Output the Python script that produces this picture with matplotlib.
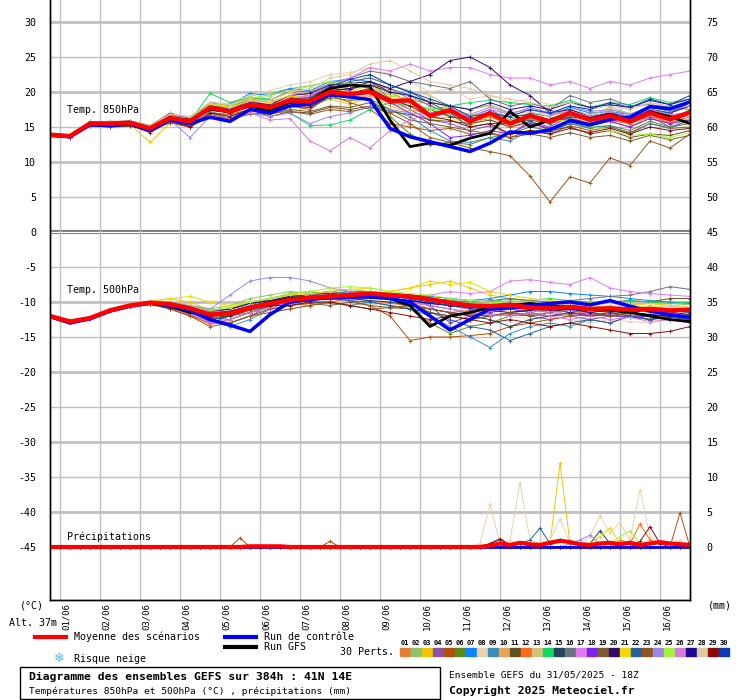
import matplotlib
matplotlib.use('Agg')
import matplotlib.pyplot as plt
import numpy as np

# hours since 31/05 18Z
hours_12 = list(range(0, 385, 12))
hours_6 = list(range(0, 385, 6))
days = ['01/06', '02/06', '03/06', '04/06', '05/06', '06/06', '07/06', '08/06',
        '09/06', '10/06', '11/06', '12/06', '13/06', '14/06', '15/06', '16/06']

colors = ['#e57e35', '#8dc46b', '#f2c500', '#8b52a8', '#b24f0c', '#5a8a16', '#0a84ff', '#e8d2ae',
          '#3b8cba', '#e6a456', '#64521f', '#fa6a1c', '#d2bf7c', '#12d85e', '#22455c', '#6a747c',
          '#e47af2', '#7e22f2', '#7c5c2e', '#32086e', '#f2d800', '#236298', '#8e5722', '#9a86ec',
          '#a4f43a', '#d87ad8', '#1e0898', '#e0c8a0', '#8c0a0a', '#0a3cb8']

mean_850 = [13.9, 13.7, 15.5, 15.5, 15.6, 14.8, 16.3, 15.8, 17.8, 17.2, 18.2, 17.8, 18.8, 18.7, 20.0, 19.7, 20.0,
            18.7, 18.8, 16.6, 17.4, 15.8, 17.0, 15.5, 16.6, 15.8, 17.0, 16.0, 16.6, 15.8, 17.0, 16.1, 17.1]
ctrl_850 = [13.8, 13.6, 15.3, 15.2, 15.4, 14.5, 16.0, 15.5, 16.4, 15.8, 17.5, 17.0, 18.0, 18.3, 19.6, 19.3, 18.9,
            14.8, 13.6, 12.9, 12.2, 11.5, 12.7, 14.3, 14.1, 14.6, 15.9, 15.3, 16.1, 16.4, 17.9, 17.6, 18.6]
gfs_850 = [13.9, 13.7, 15.4, 15.3, 15.5, 14.6, 16.2, 16.0, 17.5, 17.2, 18.0, 17.3, 18.5, 18.8, 20.5, 21.0, 20.8,
           16.0, 12.2, 12.7, 12.4, 13.4, 14.1, 17.2, 15.0, 16.0, 17.0, 16.2, 16.8, 16.0, 17.2, 16.5, 15.5]

pert_850 = [
    [13.8, 13.6, 15.6, 15.3, 15.8, 14.6, 16.5, 16.0, 18.3, 17.5, 18.9, 18.5, 19.5, 19.0, 20.8, 20.5, 21.0, 19.5, 19.0, 17.0, 17.8, 16.2, 16.0, 15.0, 15.5, 14.8, 16.0, 15.5, 15.8, 15.0, 16.5, 15.6, 16.8],
    [13.9, 13.8, 15.4, 15.7, 15.5, 15.0, 16.1, 15.5, 18.0, 17.9, 19.5, 19.8, 20.5, 20.9, 21.5, 21.0, 20.5, 19.8, 19.6, 18.5, 18.0, 17.5, 18.2, 17.0, 17.5, 16.8, 17.2, 16.5, 17.8, 16.9, 17.5, 17.0, 18.0],
    [13.9, 13.5, 15.5, 15.2, 15.4, 12.8, 15.6, 16.0, 17.5, 17.0, 17.8, 17.2, 18.5, 18.0, 19.0, 18.2, 19.4, 18.0, 17.0, 16.0, 16.5, 15.2, 16.5, 15.5, 17.0, 16.0, 17.5, 16.2, 16.0, 15.5, 16.8, 16.0, 17.5],
    [13.8, 13.7, 15.6, 15.8, 15.4, 15.2, 17.0, 16.2, 18.2, 17.5, 18.8, 18.0, 19.2, 19.5, 20.5, 20.2, 21.5, 19.0, 17.5, 16.0, 15.5, 14.5, 15.2, 14.0, 15.8, 15.0, 16.5, 15.2, 16.0, 15.5, 16.5, 15.0, 16.0],
    [13.9, 13.8, 15.3, 15.6, 15.7, 14.7, 16.4, 15.0, 17.0, 16.8, 17.5, 17.2, 18.0, 17.5, 19.5, 18.5, 17.5, 15.5, 15.0, 14.5, 14.8, 14.0, 14.2, 13.5, 14.5, 14.0, 15.2, 14.5, 15.0, 14.2, 15.5, 14.8, 15.0],
    [13.8, 13.6, 15.2, 15.0, 15.1, 14.5, 16.0, 15.4, 17.2, 16.5, 17.5, 17.0, 18.0, 17.8, 19.2, 18.8, 19.0, 16.5, 14.0, 12.5, 12.8, 12.5, 13.5, 14.0, 15.0, 14.5, 15.5, 14.8, 15.2, 14.5, 15.8, 15.0, 15.5],
    [14.0, 13.8, 15.8, 15.6, 15.8, 15.0, 16.6, 16.2, 18.5, 18.2, 19.8, 19.5, 20.5, 20.2, 21.5, 21.8, 21.5, 20.5, 19.5, 18.0, 17.0, 16.5, 17.5, 16.0, 17.0, 16.5, 17.8, 17.0, 17.2, 16.8, 18.0, 17.2, 18.5],
    [13.9, 13.7, 15.5, 15.9, 15.8, 15.3, 16.8, 16.5, 18.0, 18.5, 19.5, 20.2, 21.0, 21.5, 22.5, 22.8, 23.5, 22.5, 21.5, 20.0, 20.5, 19.0, 19.5, 18.5, 19.0, 18.2, 18.5, 17.8, 18.2, 17.5, 18.5, 17.8, 18.2],
    [13.8, 13.7, 15.4, 15.3, 15.5, 14.5, 16.2, 15.6, 17.6, 17.0, 18.5, 17.5, 18.6, 18.2, 19.5, 19.2, 19.0, 17.5, 16.5, 14.5, 13.0, 12.8, 13.5, 13.0, 14.5, 14.2, 15.5, 15.0, 15.2, 14.0, 15.5, 14.8, 16.0],
    [13.9, 13.8, 15.6, 15.5, 15.9, 14.9, 16.5, 15.9, 18.0, 17.5, 18.5, 18.0, 19.0, 18.5, 20.0, 19.0, 19.5, 18.5, 17.5, 16.8, 17.0, 16.2, 16.8, 15.8, 16.5, 15.8, 16.5, 15.5, 16.0, 15.8, 16.2, 15.5, 16.2],
    [13.8, 13.6, 15.3, 15.2, 15.3, 14.6, 15.8, 15.2, 17.0, 16.2, 17.5, 16.5, 17.2, 17.0, 17.8, 17.5, 18.0, 17.2, 16.8, 16.0, 15.8, 15.5, 16.0, 15.0, 15.8, 14.5, 15.0, 14.0, 14.5, 13.5, 14.0, 13.8, 14.5],
    [14.0, 13.8, 15.7, 15.6, 15.8, 15.1, 16.7, 16.0, 18.5, 18.0, 19.2, 18.8, 20.0, 19.5, 21.0, 20.5, 21.0, 20.5, 19.0, 18.2, 16.5, 16.0, 16.5, 15.2, 16.2, 15.5, 16.2, 15.5, 16.0, 15.5, 16.8, 15.5, 16.5],
    [13.9, 13.7, 15.5, 15.4, 15.6, 14.8, 16.2, 15.8, 17.8, 17.5, 18.5, 18.2, 19.5, 19.2, 20.5, 20.8, 22.5, 21.0, 20.2, 19.5, 18.0, 17.5, 18.0, 16.8, 17.2, 16.5, 17.5, 16.8, 17.5, 16.8, 17.8, 17.5, 18.0],
    [13.8, 13.7, 15.5, 15.3, 15.6, 14.7, 16.3, 15.8, 19.8, 18.5, 19.2, 19.0, 17.0, 15.2, 15.3, 16.0, 17.5, 18.5, 18.0, 17.5, 18.0, 18.5, 18.8, 18.5, 18.2, 18.0, 18.8, 17.8, 18.5, 18.2, 19.2, 18.5, 19.0],
    [13.8, 13.6, 15.4, 15.4, 15.5, 14.4, 16.0, 15.5, 17.5, 17.0, 18.0, 17.5, 18.5, 18.5, 20.0, 20.5, 21.5, 20.0, 18.5, 17.5, 16.5, 16.0, 17.0, 16.5, 16.8, 16.0, 16.2, 15.5, 16.5, 15.8, 17.0, 16.5, 17.2],
    [13.9, 13.8, 15.6, 15.7, 15.9, 15.2, 16.8, 16.2, 18.2, 17.8, 19.0, 18.8, 20.2, 20.0, 21.2, 22.0, 23.0, 22.5, 21.5, 21.0, 20.5, 21.5, 19.0, 18.0, 18.5, 17.5, 19.5, 18.5, 19.0, 18.0, 18.2, 17.8, 17.5],
    [13.9, 13.8, 15.6, 15.5, 15.7, 15.0, 16.5, 16.0, 18.0, 17.5, 18.5, 18.0, 19.0, 19.5, 21.0, 22.0, 23.5, 23.0, 24.0, 23.0, 23.5, 23.5, 22.5, 22.0, 22.0, 21.0, 21.5, 20.5, 21.5, 21.0, 22.0, 22.5, 23.0],
    [13.8, 13.7, 15.5, 15.6, 15.5, 14.9, 16.6, 16.2, 17.8, 17.2, 18.3, 18.0, 18.5, 18.0, 19.5, 19.5, 20.0, 18.5, 17.0, 15.5, 13.5, 13.8, 14.5, 14.0, 15.5, 14.8, 15.8, 15.2, 15.8, 15.0, 16.2, 15.5, 16.0],
    [13.8, 13.6, 15.3, 15.2, 15.4, 14.7, 15.9, 15.0, 16.5, 16.2, 17.0, 16.8, 17.5, 17.2, 18.0, 17.8, 18.5, 17.5, 16.0, 15.5, 15.0, 14.5, 14.0, 13.5, 14.0, 13.5, 14.2, 13.5, 13.8, 13.0, 13.8, 13.2, 13.8],
    [13.9, 13.7, 15.5, 15.5, 15.7, 14.9, 16.4, 16.0, 18.0, 17.5, 18.5, 18.2, 19.5, 19.8, 21.0, 21.2, 21.5, 20.5, 21.5, 22.5, 24.5, 25.0, 23.5, 21.0, 19.5, 17.0, 17.5, 16.5, 17.0, 16.5, 17.5, 17.0, 18.0],
    [13.9, 13.8, 15.7, 15.6, 15.8, 15.0, 16.6, 16.0, 18.2, 17.8, 18.8, 18.5, 19.5, 19.0, 20.5, 20.0, 21.0, 19.5, 19.0, 18.8, 17.5, 16.5, 17.0, 16.0, 16.5, 16.0, 17.0, 16.2, 16.8, 16.0, 17.0, 16.2, 17.0],
    [13.8, 13.6, 15.4, 15.3, 15.5, 14.6, 16.1, 15.5, 17.6, 17.0, 18.0, 17.5, 18.5, 18.8, 20.5, 21.5, 22.0, 21.0, 20.0, 18.5, 17.0, 15.0, 15.5, 15.5, 16.0, 15.5, 16.5, 16.0, 17.0, 16.5, 17.5, 17.0, 18.5],
    [13.8, 13.6, 15.2, 15.0, 15.2, 14.5, 15.6, 15.0, 16.8, 16.2, 16.8, 17.0, 17.2, 16.8, 17.5, 17.2, 17.8, 17.0, 15.5, 13.5, 12.8, 12.0, 11.5, 10.9, 8.0, 4.3, 7.9, 7.0, 10.6, 9.5, 13.0, 12.0, 14.0],
    [13.7, 13.5, 15.3, 15.3, 15.4, 14.5, 16.0, 13.5, 16.5, 16.0, 17.0, 16.5, 17.0, 15.5, 16.5, 17.0, 18.0, 17.5, 17.0, 16.8, 17.2, 16.5, 17.5, 16.8, 17.8, 17.0, 18.0, 17.2, 17.5, 16.8, 17.8, 17.5, 18.0],
    [13.9, 13.8, 15.6, 15.7, 15.6, 15.1, 16.5, 16.2, 18.3, 18.0, 19.2, 19.5, 20.2, 20.8, 21.5, 21.2, 21.0, 20.0, 18.5, 17.5, 17.2, 16.8, 17.0, 16.5, 16.5, 15.8, 16.0, 15.2, 14.5, 13.8, 14.0, 13.5, 14.2],
    [13.7, 13.5, 15.3, 15.2, 15.4, 14.6, 16.0, 15.5, 17.0, 16.2, 17.0, 16.0, 16.2, 13.0, 11.6, 13.5, 12.0, 14.5, 16.0, 17.0, 17.5, 16.8, 17.8, 17.0, 17.5, 16.8, 17.2, 16.5, 17.2, 16.5, 17.5, 16.8, 17.0],
    [13.8, 13.7, 15.5, 15.4, 15.6, 14.8, 16.3, 15.7, 17.7, 17.2, 18.2, 17.5, 18.8, 18.5, 20.2, 20.5, 21.0, 20.0, 19.5, 18.5, 18.0, 17.5, 18.5, 17.5, 18.0, 17.5, 18.5, 17.8, 18.2, 17.8, 18.8, 18.2, 19.0],
    [13.9, 13.8, 15.6, 15.6, 15.8, 15.2, 16.8, 16.5, 18.5, 18.2, 19.0, 18.8, 20.0, 20.5, 22.0, 22.5, 24.0, 24.5, 23.0, 21.5, 21.0, 20.5, 19.5, 19.0, 18.5, 17.8, 18.5, 17.5, 18.0, 17.5, 18.5, 18.0, 18.5],
    [13.8, 13.6, 15.4, 15.2, 15.3, 14.2, 15.8, 15.0, 17.0, 16.5, 17.5, 17.2, 18.0, 17.8, 19.5, 19.8, 20.5, 19.0, 18.0, 16.5, 16.0, 15.0, 15.5, 14.0, 14.5, 14.0, 14.8, 14.2, 14.8, 14.0, 15.0, 14.5, 14.8],
    [13.9, 13.7, 15.5, 15.5, 15.6, 14.8, 16.4, 15.9, 17.9, 17.4, 18.4, 18.0, 19.0, 19.2, 20.8, 21.8, 22.5, 21.0, 20.0, 19.0, 18.0, 16.5, 17.0, 16.5, 17.5, 17.0, 18.0, 17.5, 18.5, 17.8, 19.0, 18.2, 19.5],
]

mean_500 = [-12.0, -12.8, -12.3, -11.2, -10.5, -10.1, -10.3, -10.9, -11.8, -11.6, -10.8, -10.2, -9.7, -9.4, -9.2, -9.0, -8.8,
            -9.0, -9.2, -9.6, -10.1, -10.5, -10.6, -10.4, -10.8, -10.9, -10.7, -11.0, -10.9, -11.1, -11.0, -11.2, -11.1]
ctrl_500 = [-12.1, -13.0, -12.4, -11.3, -10.6, -10.2, -10.5, -11.2, -12.5, -13.3, -14.2, -11.8, -10.0, -9.6, -9.4, -9.3, -9.3,
            -9.5, -10.0, -12.0, -14.0, -12.5, -11.0, -10.8, -10.5, -10.2, -10.0, -10.4, -9.8, -10.6, -11.3, -11.8, -12.2]
gfs_500 = [-12.0, -12.9, -12.3, -11.2, -10.5, -10.1, -10.6, -11.5, -11.9, -11.5, -10.8, -10.0, -9.5, -9.3, -9.2, -9.0, -9.1,
           -9.5, -10.5, -13.5, -12.0, -11.5, -10.8, -10.5, -10.2, -10.5, -10.8, -11.0, -11.2, -11.5, -12.0, -12.5, -12.8]

pert_500 = [
    [-12.0, -12.7, -12.2, -11.1, -10.4, -10.0, -10.5, -11.5, -12.5, -12.0, -11.0, -10.0, -9.5, -9.0, -9.5, -9.2, -8.5, -9.5, -10.0, -11.0, -11.5, -12.0, -11.0, -10.5, -11.5, -12.0, -11.0, -11.5, -12.0, -11.8, -12.5, -12.0, -12.8],
    [-12.1, -12.9, -12.4, -11.3, -10.6, -10.2, -10.0, -10.5, -11.0, -10.5, -9.5, -9.0, -8.5, -8.8, -8.5, -8.2, -8.5, -8.8, -9.0, -9.5, -9.8, -10.0, -10.2, -9.8, -10.0, -10.5, -10.2, -10.5, -10.0, -10.4, -10.2, -10.5, -10.3],
    [-11.9, -12.6, -12.2, -11.0, -10.3, -9.9, -9.5, -10.0, -11.2, -10.8, -10.0, -9.5, -9.0, -8.8, -8.5, -8.8, -9.0, -8.5, -8.0, -7.5, -7.0, -8.0, -9.0, -9.5, -10.0, -10.5, -10.5, -11.0, -10.8, -11.0, -10.5, -11.0, -11.5],
    [-12.0, -12.8, -12.3, -11.2, -10.5, -10.2, -10.8, -11.8, -12.8, -13.0, -12.0, -10.5, -9.5, -9.0, -8.5, -8.8, -9.0, -9.5, -10.0, -10.5, -11.0, -11.5, -12.0, -11.5, -12.0, -12.5, -12.0, -12.5, -12.0, -12.2, -12.5, -12.0, -12.5],
    [-12.0, -12.8, -12.3, -11.2, -10.6, -10.3, -11.0, -12.0, -13.0, -12.0, -11.5, -10.8, -10.0, -9.5, -9.5, -9.8, -10.5, -12.0, -15.5, -15.0, -15.0, -14.8, -14.5, -13.5, -13.0, -12.5, -12.0, -11.8, -12.0, -11.5, -11.8, -11.5, -12.0],
    [-12.1, -12.9, -12.4, -11.3, -10.5, -10.0, -10.2, -10.8, -11.5, -11.0, -10.5, -9.5, -8.8, -8.5, -9.0, -9.5, -9.0, -9.5, -11.0, -13.0, -14.5, -13.5, -13.0, -12.0, -11.5, -11.0, -11.2, -11.5, -11.0, -11.5, -11.0, -11.5, -11.8],
    [-12.0, -12.7, -12.2, -11.1, -10.4, -10.0, -10.2, -10.6, -11.2, -11.0, -10.2, -9.8, -9.2, -9.0, -8.8, -8.5, -8.5, -8.8, -9.0, -9.2, -9.5, -9.8, -9.5, -9.0, -8.5, -8.5, -8.8, -9.0, -9.2, -9.5, -9.8, -10.0, -10.2],
    [-12.0, -12.8, -12.3, -11.2, -10.5, -10.2, -10.5, -11.0, -12.0, -11.5, -10.8, -11.5, -11.0, -10.5, -10.0, -10.2, -10.5, -10.0, -9.5, -10.0, -10.5, -11.0, -11.5, -12.0, -12.5, -12.0, -12.5, -13.0, -12.5, -12.8, -13.0, -12.5, -13.0],
    [-12.0, -12.8, -12.2, -11.1, -10.5, -10.1, -10.5, -11.5, -12.8, -13.5, -12.5, -11.0, -10.5, -10.0, -10.2, -10.5, -10.0, -10.5, -11.0, -12.0, -13.5, -15.0, -16.5, -14.5, -13.5, -13.0, -13.5, -12.5, -13.0, -12.0, -12.5, -12.0, -12.0],
    [-12.0, -12.8, -12.3, -11.2, -10.5, -10.1, -10.4, -11.0, -11.8, -11.5, -10.8, -10.2, -9.8, -9.5, -9.2, -9.0, -9.2, -9.0, -9.5, -10.0, -10.5, -10.8, -11.0, -11.0, -11.2, -11.5, -11.0, -11.2, -11.5, -11.0, -11.5, -11.2, -11.5],
    [-12.0, -12.8, -12.3, -11.2, -10.5, -10.2, -10.8, -11.2, -12.2, -12.0, -11.2, -10.5, -10.0, -9.8, -9.5, -9.2, -9.0, -9.5, -10.0, -11.5, -12.0, -12.5, -12.0, -11.5, -11.0, -10.8, -10.5, -10.2, -10.0, -9.8, -10.0, -9.5, -9.5],
    [-12.0, -12.7, -12.2, -11.1, -10.4, -10.0, -10.6, -11.8, -13.2, -12.5, -11.5, -10.8, -10.2, -10.5, -10.0, -9.5, -9.8, -10.2, -10.5, -11.0, -11.5, -11.2, -11.0, -10.8, -11.0, -11.5, -11.2, -11.8, -11.5, -12.0, -11.8, -12.2, -12.5],
    [-12.0, -12.8, -12.3, -11.2, -10.5, -10.1, -10.3, -10.8, -11.5, -11.2, -10.5, -10.0, -9.5, -9.2, -9.0, -8.8, -8.5, -8.8, -9.0, -9.5, -10.0, -10.5, -10.2, -10.0, -10.5, -10.2, -10.5, -10.8, -10.5, -10.8, -11.0, -10.8, -11.0],
    [-12.1, -12.9, -12.4, -11.3, -10.6, -10.2, -10.4, -10.8, -11.5, -11.0, -10.0, -9.5, -9.0, -9.2, -9.5, -9.0, -9.2, -9.5, -9.8, -10.0, -9.5, -9.8, -10.0, -9.5, -9.8, -9.5, -9.8, -10.0, -10.2, -9.8, -10.0, -10.2, -10.0],
    [-12.0, -12.8, -12.3, -11.2, -10.5, -10.1, -10.7, -11.5, -12.5, -12.0, -11.0, -10.5, -10.2, -9.8, -9.5, -9.5, -9.8, -10.0, -10.5, -11.0, -11.5, -12.0, -12.5, -13.5, -12.5, -12.0, -11.5, -12.0, -11.5, -12.0, -12.5, -12.0, -12.5],
    [-12.0, -12.8, -12.3, -11.2, -10.5, -10.0, -10.2, -10.6, -11.3, -11.0, -10.5, -10.0, -9.5, -9.0, -8.8, -8.5, -8.8, -9.0, -9.2, -9.5, -9.8, -10.0, -9.8, -9.5, -9.8, -10.0, -9.8, -9.5, -9.2, -9.0, -8.5, -7.8, -8.2],
    [-12.0, -12.7, -12.2, -11.1, -10.4, -10.0, -10.2, -10.8, -11.5, -11.2, -10.5, -10.0, -9.5, -9.2, -9.0, -8.8, -9.0, -9.2, -9.5, -9.0, -8.5, -8.8, -8.5, -7.0, -6.8, -7.2, -7.5, -6.5, -8.0, -8.5, -8.8, -9.0, -9.2],
    [-12.0, -12.8, -12.3, -11.2, -10.5, -10.1, -10.5, -11.2, -12.0, -11.8, -11.0, -10.5, -10.0, -9.5, -9.2, -9.0, -9.0, -9.2, -9.5, -10.5, -13.0, -12.0, -11.5, -11.0, -11.5, -12.0, -11.5, -12.0, -11.8, -12.2, -12.0, -12.5, -12.8],
    [-12.0, -12.8, -12.3, -11.2, -10.5, -10.2, -10.8, -11.5, -12.5, -13.0, -12.0, -11.0, -10.5, -10.2, -10.5, -10.0, -10.5, -10.8, -11.0, -11.5, -12.0, -12.5, -12.0, -11.8, -12.0, -11.5, -11.0, -11.5, -12.0, -11.5, -11.0, -11.5, -11.2],
    [-12.0, -12.8, -12.3, -11.2, -10.5, -10.1, -10.4, -10.9, -11.5, -11.0, -10.2, -9.8, -9.2, -9.0, -8.8, -9.0, -9.2, -9.5, -9.8, -10.2, -10.5, -11.0, -11.2, -11.5, -11.2, -11.0, -11.5, -11.2, -11.0, -11.5, -11.2, -11.5, -11.8],
    [-12.0, -12.7, -12.2, -11.1, -10.4, -10.0, -9.5, -9.2, -10.0, -10.5, -10.0, -9.5, -9.0, -8.8, -8.5, -8.2, -8.0, -8.5, -8.0, -7.0, -7.5, -7.2, -8.5, -9.0, -9.5, -9.8, -10.0, -10.2, -10.0, -10.5, -10.2, -10.5, -10.8],
    [-12.0, -12.8, -12.3, -11.2, -10.5, -10.1, -10.6, -11.4, -12.2, -12.5, -11.5, -10.5, -10.0, -9.5, -9.5, -9.8, -10.0, -10.5, -11.0, -11.5, -12.5, -13.5, -14.0, -15.5, -14.5, -13.5, -13.0, -12.5, -13.0, -12.0, -12.5, -12.2, -12.5],
    [-12.0, -12.8, -12.3, -11.2, -10.6, -10.3, -11.0, -12.0, -13.5, -13.0, -12.0, -11.5, -11.0, -10.5, -10.0, -10.5, -11.0, -10.8, -10.5, -11.0, -11.5, -11.8, -12.0, -11.5, -11.8, -12.0, -11.8, -11.5, -12.0, -11.5, -12.0, -11.8, -12.0],
    [-12.0, -12.8, -12.3, -11.2, -10.5, -10.1, -10.3, -10.5, -11.0, -9.0, -7.0, -6.5, -6.5, -7.0, -8.0, -8.5, -8.8, -9.0, -9.5, -10.0, -10.5, -11.0, -11.0, -10.5, -11.0, -11.5, -11.2, -11.5, -11.0, -11.5, -11.8, -11.5, -12.0],
    [-12.0, -12.7, -12.2, -11.1, -10.4, -10.0, -10.2, -10.6, -11.2, -10.8, -10.0, -9.5, -8.8, -8.5, -8.0, -7.8, -8.0, -8.5, -8.8, -9.0, -9.5, -9.8, -10.0, -10.2, -10.0, -10.5, -10.2, -10.5, -10.8, -11.0, -11.5, -11.2, -11.5],
    [-12.0, -12.8, -12.3, -11.2, -10.5, -10.1, -10.5, -11.5, -13.0, -12.5, -11.5, -10.8, -10.0, -9.5, -9.2, -9.5, -9.0, -9.5, -10.0, -10.5, -11.0, -11.5, -11.8, -12.0, -11.5, -12.0, -12.5, -12.0, -12.5, -12.2, -12.8, -12.5, -13.0],
    [-12.0, -12.8, -12.3, -11.2, -10.5, -10.1, -10.4, -11.0, -11.8, -11.5, -10.8, -10.2, -9.8, -9.5, -9.2, -9.0, -9.2, -9.5, -9.8, -10.2, -10.5, -10.8, -11.0, -10.8, -11.0, -11.2, -11.0, -11.5, -11.2, -11.5, -11.8, -12.0, -12.2],
    [-12.0, -12.8, -12.3, -11.2, -10.5, -10.1, -10.3, -10.8, -11.5, -11.2, -10.5, -10.0, -9.5, -9.0, -9.0, -8.8, -9.0, -9.2, -9.5, -9.8, -10.0, -10.2, -10.5, -10.2, -10.0, -10.5, -10.2, -10.5, -10.2, -10.5, -10.8, -10.5, -10.8],
    [-12.0, -12.8, -12.3, -11.2, -10.6, -10.3, -10.8, -11.5, -12.0, -11.8, -11.0, -10.5, -10.5, -10.0, -10.0, -10.5, -11.0, -11.5, -12.0, -12.5, -12.0, -12.5, -13.0, -12.5, -13.0, -13.5, -13.0, -13.5, -14.0, -14.5, -14.5, -14.2, -13.5],
    [-12.0, -12.8, -12.3, -11.2, -10.5, -10.1, -10.4, -10.9, -11.6, -11.3, -10.6, -10.0, -9.5, -9.2, -9.0, -8.8, -9.0, -9.2, -9.5, -10.0, -10.5, -10.8, -10.5, -10.2, -10.5, -10.8, -10.5, -10.8, -11.0, -10.8, -11.0, -11.2, -11.5],
]

# precipitation (mm) every 6h, only members with visible rain
precip_03 = [0] * 50 + [0.5, 12.0, 0.5, 0, 0, 0, 0, 0, 0, 0, 0, 0, 0, 0, 0]
precip_05 = [0] * 19 + [1.3] + [0] * 8 + [0.8] + [0] * 34 + [4.9, 0]
precip_08 = [0] * 43 + [0.5, 6.1, 0.5, 1.0, 9.2, 1.0, 0.5, 1.0, 4.0, 0.5, 0.5, 1.5, 4.5, 2.0, 3.5, 1.0, 8.2, 1.5, 0.5, 0.5, 1.0, 0]
precip_12 = [0] * 57 + [1.0, 0.5, 3.3, 1.0, 0.5, 0.5, 0, 0]
precip_15 = [0] * 54 + [0.5, 2.3, 0.5, 0, 0, 0, 0, 0, 0, 0, 0]
precip_21 = [0] * 54 + [0.5, 1.5, 2.7, 0.5, 0, 0, 0, 0, 0, 0, 0]
precip_22 = [0] * 44 + [0.5, 1.0, 0.3, 0.5, 1.0, 2.7, 0.5, 1.0, 0.5, 0.3, 0, 0, 0, 0, 0, 0, 0, 0, 0, 0, 0]
precip_24 = [0] * 52 + [0.5, 1.0, 1.7, 0.5, 0, 0, 0, 0, 0, 0, 0, 0, 0]
precip_25 = [0] * 56 + [0.5, 1.5, 2.3, 0.5, 0, 0, 0, 0, 0]
precip_29 = [0] * 44 + [0.5, 1.2, 0.3] + [0] * 12 + [0.8, 2.9, 0.5, 0, 0, 0]
precip_members = {3: precip_03, 5: precip_05, 8: precip_08, 12: precip_12, 15: precip_15,
                  21: precip_21, 22: precip_22, 24: precip_24, 25: precip_25, 29: precip_29}
precip_mean = [0] * 20 + [0.1] * 4 + [0] * 20 + [0.2, 0.5, 0.3, 0.6, 0.4, 0.3, 0.6, 0.9, 0.7, 0.4, 0.3,
                                                  0.5, 0.6, 0.4, 0.6, 0.3, 0.5, 0.7, 0.5, 0.4, 0.3]
precip_base = -45


def P(x, y):
    return x / 740, 1 - y / 700


fig = plt.figure(figsize=(7.4, 7.0), dpi=100)
ax = fig.add_axes([50 / 740, 100 / 700, 640 / 740, 600 / 700])
ax.set_xlim(0, 384)
ax.set_ylim((232 - 600) / 7, 232 / 7)

for v in range(-45, 31, 5):
    if v == 0:
        ax.axhline(v, color='#808080', lw=3, zorder=1)
        ax.axhline(v, color='white', lw=0.8, zorder=1)
    else:
        ax.axhline(v, color='#c0c0c0', lw=2 if v % 10 == 0 else 1, zorder=1)
day_hours = [6 + 24 * i for i in range(16)]
for h in day_hours:
    ax.axvline(h, color='#c0c0c0', lw=1, zorder=1)

pk = dict(lw=0.7, marker='+', ms=2.5, mew=0.6, zorder=2)
for i in range(30):
    ax.plot(hours_12, pert_850[i], color=colors[i], **pk)
    ax.plot(hours_12, pert_500[i], color=colors[i], **pk)
for m, pr in precip_members.items():
    ax.plot(hours_6, np.array(pr) + precip_base, color=colors[m - 1], **pk)

for ser in (gfs_850, gfs_500):
    ax.plot(hours_12, ser, color='black', lw=2, zorder=3)
for ser in (ctrl_850, ctrl_500):
    ax.plot(hours_12, ser, color='#0000ff', lw=2.5, zorder=4)
ax.plot(hours_6, np.full(len(hours_6), precip_base), color='#0000ff', lw=2, zorder=4)
for ser in (mean_850, mean_500):
    ax.plot(hours_12, ser, color='#ff0000', lw=3.2, zorder=5)
ax.plot(hours_6, np.array(precip_mean) + precip_base, color='#ff0000', lw=3, zorder=5)

mono = 'DejaVu Sans Mono'
fs = 7.2
yt = list(range(-45, 31, 5))
ax.set_yticks(yt)
ax.set_yticklabels([str(v) for v in yt], fontsize=fs, family=mono)
ax.tick_params(axis='y', length=0, pad=10)
ax2 = ax.twinx()
ax2.set_ylim(ax.get_ylim())
ax2.set_yticks(yt)
ax2.set_yticklabels([str(v + 45) for v in yt], fontsize=fs, family=mono)
ax2.tick_params(axis='y', length=0, pad=12)
ax.set_xticks([h + 4 for h in day_hours])
ax.set_xticklabels(days, rotation=90, fontsize=6.5, family=mono)
ax.tick_params(axis='x', length=0, pad=2)
for a in (ax, ax2):
    for s in a.spines.values():
        s.set_color('black')
        s.set_linewidth(1)
    a.spines['top'].set_visible(False)

ax.text(10, (232 - 110) / 7, 'Temp. 850hPa', fontsize=fs, family=mono, va='center', zorder=6)
ax.text(10, (232 - 290) / 7, 'Temp. 500hPa', fontsize=fs, family=mono, va='center', zorder=6)
ax.text(10, (232 - 537) / 7, 'Précipitations', fontsize=fs, family=mono, va='center', zorder=6)

fig.text(*P(20, 606), '(°C)', fontsize=fs, family=mono, va='center')
fig.text(*P(708, 606), '(mm)', fontsize=fs, family=mono, va='center')
fig.text(*P(9, 623), 'Alt. 37m', fontsize=fs, family=mono, va='center')

fig.add_artist(plt.Line2D([35 / 740, 66 / 740], [1 - 637 / 700] * 2, color='#ff0000', lw=3))
fig.text(*P(74, 637), 'Moyenne des scénarios', fontsize=fs, family=mono, va='center')
fig.add_artist(plt.Line2D([225 / 740, 256 / 740], [1 - 637 / 700] * 2, color='#0000ff', lw=3))
fig.text(*P(264, 637), 'Run de contrôle', fontsize=fs, family=mono, va='center')
fig.add_artist(plt.Line2D([225 / 740, 256 / 740], [1 - 647 / 700] * 2, color='black', lw=3))
fig.text(*P(264, 647), 'Run GFS', fontsize=fs, family=mono, va='center')
fig.text(*P(54, 659), '❄', fontsize=9, color='#5ab4f0', va='center')
fig.text(*P(74, 659), 'Risque neige', fontsize=fs, family=mono, va='center')
fig.text(*P(340, 652), '30 Perts.', fontsize=fs, family=mono, va='center')
for i in range(30):
    x0 = 400 + i * 11
    fig.text(*P(x0 + 5, 643), '%02d' % (i + 1), fontsize=5, family=mono, ha='center', va='center',
             weight='bold')
    fig.add_artist(plt.Rectangle(P(x0, 656), 10 / 740, 8 / 700, color=colors[i]))

fig.add_artist(plt.Rectangle(P(20, 699), 420 / 740, 32 / 700, fill=False, ec='black', lw=1))
fig.text(*P(29, 677), 'Diagramme des ensembles GEFS sur 384h : 41N 14E', fontsize=8.2, family=mono,
         weight='bold', va='center')
fig.text(*P(29, 691), 'Températures 850hPa et 500hPa (°C) , précipitations (mm)', fontsize=6.8,
         family=mono, va='center')
fig.text(*P(449, 675), 'Ensemble GEFS du 31/05/2025 - 18Z', fontsize=6.8, family=mono, va='center')
fig.text(*P(449, 691), 'Copyright 2025 Meteociel.fr', fontsize=8.2, family=mono, weight='bold', va='center')

fig.savefig('out.png', dpi=100)
